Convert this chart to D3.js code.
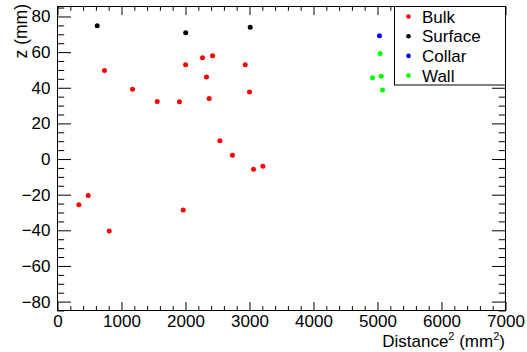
<!DOCTYPE html>
<html><head><meta charset="utf-8">
<script src="https://cdn.jsdelivr.net/npm/d3@7"></script>
<style>body{margin:0;background:#fff}svg{display:block}text{font-family:"Liberation Sans",Arial,sans-serif;fill:#000}</style>
</head><body><svg id="c" width="527" height="352"></svg>
<script>
const bulkX = [734,1172,1558,1906,2001,2266,2423,2328,2370,2933,3000,2537,2734,3063,3209,334,480,808,1964];
const bulkZ = [49.7,39.1,32.3,32.2,52.9,56.8,58.0,46.0,34.0,52.9,37.6,10.3,2.1,-5.8,-4.1,-25.6,-20.5,-40.4,-28.6];
const surfaceX = [620,2003,3011];
const surfaceZ = [74.8,70.9,74.0];
const collarX = [5031];
const collarZ = [69.2];
const wallX = [5042,4922,5058,5078];
const wallZ = [59.2,45.6,46.4,38.7];
const seriesNames = ["Bulk","Surface","Collar","Wall"];
const seriesColors = ["#ff0000","#000000","#0000ff","#00ff00"];
const xMajorTicks = [0,1000,2000,3000,4000,5000,6000,7000];
const yMajorTicks = [-80,-60,-40,-20,0,20,40,60,80];

const svg = d3.select("#c");
const L=57.5,R=505.5,T=6.5,B=310.5;
const x = d3.scaleLinear().domain([0,7000]).range([L,R]);
const y = d3.scaleLinear().domain([-85,85.6]).range([B,T]);

const xMinor = d3.range(0,7001,200).filter(v=>v%1000!==0);
const yMinor = d3.range(-85,86,5).filter(v=>v%20!==0);

const gB = svg.append("g").attr("transform",`translate(0,${B})`);
gB.call(d3.axisBottom(x).tickValues(xMajorTicks).tickSize(-8.5).tickPadding(4.5).tickFormat(d3.format("d")));
gB.append("g").call(d3.axisBottom(x).tickValues(xMinor).tickSize(-4.3).tickFormat(""));
const gT = svg.append("g").attr("transform",`translate(0,${T})`);
gT.call(d3.axisTop(x).tickValues(xMajorTicks).tickSize(-8.5).tickFormat(""));
gT.append("g").call(d3.axisTop(x).tickValues(xMinor).tickSize(-4.3).tickFormat(""));
const gL = svg.append("g").attr("transform",`translate(${L},0)`);
gL.call(d3.axisLeft(y).tickValues(yMajorTicks).tickSize(-13.5).tickPadding(7).tickFormat(d3.format("d")));
gL.append("g").call(d3.axisLeft(y).tickValues(yMinor).tickSize(-6.7).tickFormat(""));
const gR = svg.append("g").attr("transform",`translate(${R},0)`);
gR.call(d3.axisRight(y).tickValues(yMajorTicks).tickSize(-13.5).tickFormat(""));
gR.append("g").call(d3.axisRight(y).tickValues(yMinor).tickSize(-6.7).tickFormat(""));

svg.selectAll(".domain").remove();
svg.selectAll(".tick line").attr("stroke","#000");
svg.selectAll(".tick text").attr("font-size",17).attr("fill","#000");
svg.append("rect").attr("x",L).attr("y",T).attr("width",R-L).attr("height",B-T).attr("fill","none").attr("stroke","#000").attr("stroke-width",1);

svg.append("text").attr("transform","translate(27,4) rotate(-90)").attr("text-anchor","end").attr("font-size",17.5).text("z (mm)");
const xt = svg.append("text").attr("x",505).attr("y",347).attr("text-anchor","end").attr("font-size",17);
xt.append("tspan").text("Distance");
xt.append("tspan").attr("font-size",11).attr("dy",-7).text("2");
xt.append("tspan").attr("dy",7).text(" (mm");
xt.append("tspan").attr("font-size",11).attr("dy",-7).text("2");
xt.append("tspan").attr("dy",7).text(")");

const series = [[bulkX,bulkZ],[surfaceX,surfaceZ],[collarX,collarZ],[wallX,wallZ]];
series.forEach((s,i)=>{
  const pts = s[0].map((v,j)=>[v,s[1][j]]);
  svg.append("g").selectAll("circle").data(pts).join("circle")
    .attr("cx",d=>x(d[0])).attr("cy",d=>y(d[1])).attr("r",2.5).attr("fill",seriesColors[i]);
});

const lg = svg.append("g");
lg.append("rect").attr("x",394.5).attr("y",T).attr("width",R-394.5).attr("height",85-T).attr("fill","#fff").attr("stroke","#000");
seriesNames.forEach((n,i)=>{
  const cy = 16.5 + i*19.7;
  lg.append("circle").attr("cx",408.5).attr("cy",cy).attr("r",2.3).attr("fill",seriesColors[i]);
  lg.append("text").attr("x",422).attr("y",cy+6.2).attr("font-size",17).text(n);
});
</script></body></html>
